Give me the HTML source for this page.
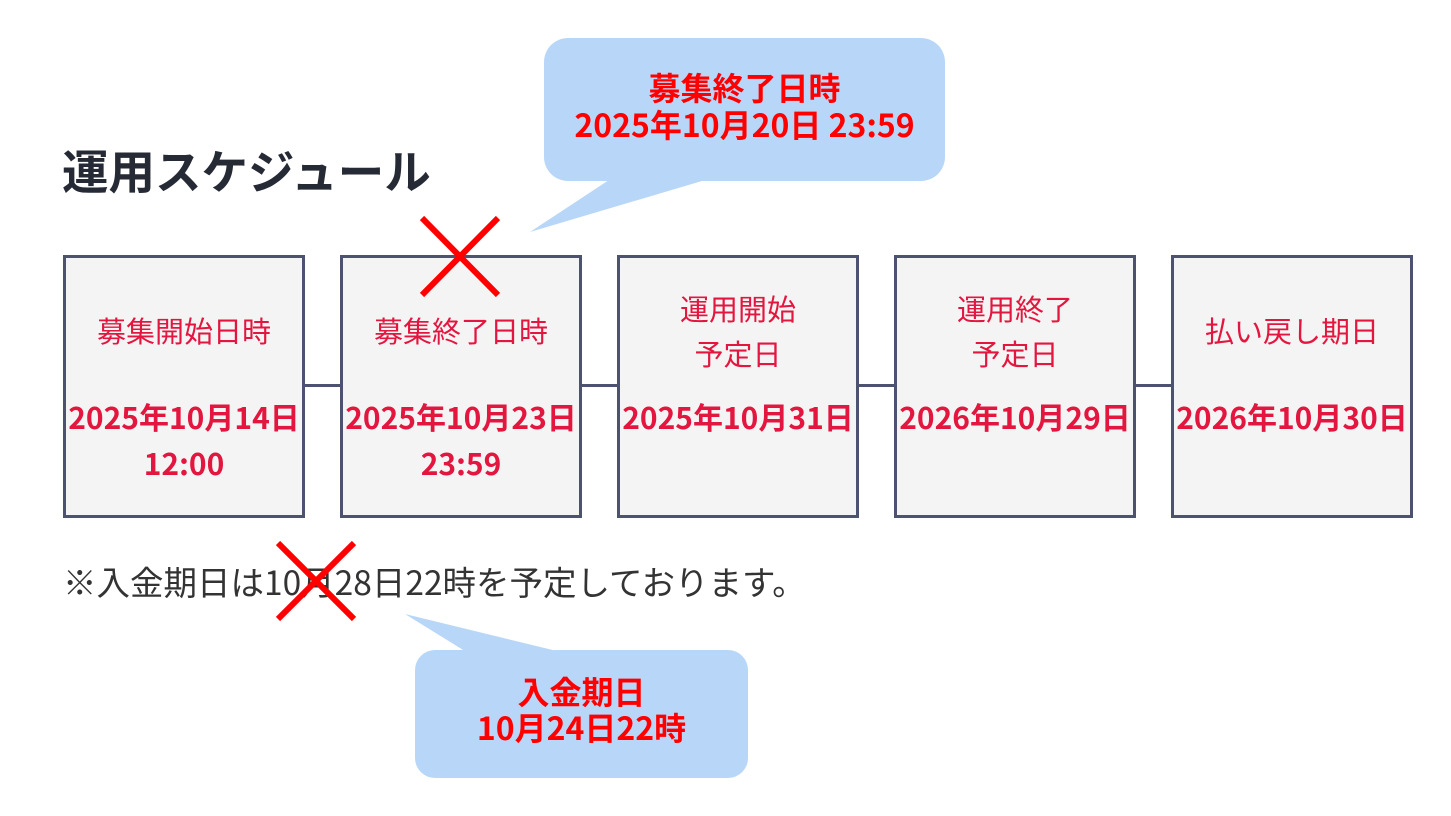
<!DOCTYPE html>
<html><head><meta charset="utf-8"><style>
body{margin:0;width:1451px;height:816px;background:#fff;position:relative;overflow:hidden;font-family:"Noto Sans CJK JP","Liberation Sans",sans-serif}
.a{position:absolute}
.title{left:62px;top:140px;font-size:46.5px;line-height:60px;font-weight:bold;color:#252a35;white-space:nowrap}
.box{position:absolute;top:255px;width:236px;height:257px;border:3px solid #4d5270;background:#f4f4f4;color:#e3163f;text-align:center}
.lab{position:absolute;left:0;right:0;font-size:29px;line-height:45px;white-space:nowrap}
.dt{position:absolute;left:-10px;right:-10px;top:135px;font-size:30px;font-weight:bold;line-height:46px;white-space:nowrap}
.line{position:absolute;top:384px;height:3px;width:36px;background:#4d5270}
.note{left:63px;top:559px;font-size:33.5px;line-height:44px;color:#333;white-space:nowrap}
.ct{color:#f00;font-weight:bold;text-align:center;font-size:32px;line-height:37px;white-space:nowrap}
</style></head><body>
<div class="a title">運用スケジュール</div>
<div class="line" style="left:305px"></div>
<div class="line" style="left:582px"></div>
<div class="line" style="left:859px"></div>
<div class="line" style="left:1136px"></div>
<div class="box" style="left:63px"><div class="lab" style="top:50px">募集開始日時</div><div class="dt">2025年10月14日<br>12:00</div></div>
<div class="box" style="left:340px"><div class="lab" style="top:50px">募集終了日時</div><div class="dt">2025年10月23日<br>23:59</div></div>
<div class="box" style="left:617px"><div class="lab" style="top:28px">運用開始<br>予定日</div><div class="dt">2025年10月31日</div></div>
<div class="box" style="left:894px"><div class="lab" style="top:28px">運用終了<br>予定日</div><div class="dt">2026年10月29日</div></div>
<div class="box" style="left:1171px"><div class="lab" style="top:50px">払い戻し期日</div><div class="dt">2026年10月30日</div></div>
<div class="a note">※入金期日は10月28日22時を予定しております。</div>
<svg class="a" style="left:0;top:0" width="1451" height="816">
<rect x="544" y="38" width="401" height="143" rx="24" fill="#b8d7f8"/>
<polygon points="612,178 712,178 530,232" fill="#b8d7f8"/>
<rect x="415" y="650" width="333" height="128" rx="20" fill="#b8d7f8"/>
<polygon points="468,653 565,653 405,614" fill="#b8d7f8"/>
<g stroke="#f00" stroke-width="6"><line x1="422" y1="218" x2="498" y2="295"/><line x1="498" y1="218" x2="422" y2="295"/>
<line x1="278" y1="543" x2="354" y2="619"/><line x1="354" y1="543" x2="278" y2="619"/></g>
</svg>
<div class="a ct" style="left:544px;width:401px;top:69px">募集終了日時<br>2025年10月20日 23:59</div>
<div class="a ct" style="left:415px;width:333px;top:673px;line-height:36px">入金期日<br>10月24日22時</div>
</body></html>
